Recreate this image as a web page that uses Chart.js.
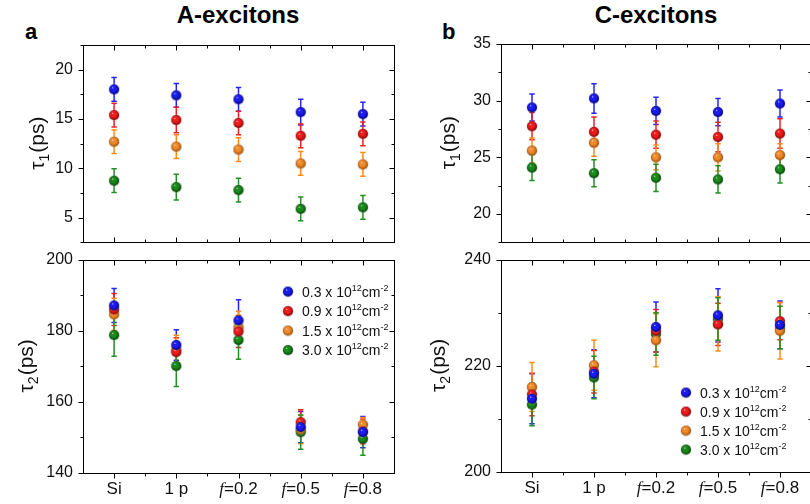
<!DOCTYPE html>
<html>
<head>
<meta charset="utf-8">
<script src="https://cdn.jsdelivr.net/npm/chart.js@4.4.0/dist/chart.umd.min.js"></script>
<style>
  html, body { margin: 0; padding: 0; background: #fff; }
  body { width: 810px; height: 504px; position: relative; overflow: hidden; font-family: Arial, "Liberation Sans", sans-serif; }
  canvas { position: absolute; }
  .title { position: absolute; width: 300px; text-align: center; font-weight: bold; font-size: 24px; line-height: 24px; color: #000; }
  .letter { position: absolute; font-weight: bold; font-size: 22px; line-height: 22px; color: #000; }
</style>
</head>
<body>
<div class="title" style="left:88px; top:3px;">A-excitons</div>
<div class="title" style="left:506px; top:3px;">C-excitons</div>
<div class="letter" style="left:25px; top:21px;">a</div>
<div class="letter" style="left:442px; top:21px;">b</div>

<canvas id="a-top" width="410" height="262" style="left:0; top:0;"></canvas>
<canvas id="a-bottom" width="410" height="264" style="left:0; top:240px;"></canvas>
<canvas id="b-top" width="410" height="262" style="left:410px; top:0;"></canvas>
<canvas id="b-bottom" width="410" height="264" style="left:410px; top:240px;"></canvas>

<script>
const categories = ["Si", "1 p", "f=0.2", "f=0.5", "f=0.8"];
const densities = ["0.3", "0.9", "1.5", "3.0"];

// A-excitons, tau1 (ps)
const a_tau1_03 = [18.0, 17.4, 17.0, 15.7, 15.5];
const a_tau1_09 = [15.4, 14.9, 14.6, 13.3, 13.5];
const a_tau1_15 = [12.7, 12.2, 11.9, 10.5, 10.4];
const a_tau1_30 = [8.75, 8.1, 7.8, 5.9, 6.05];
const a_tau1_err03 = [1.2, 1.2, 1.2, 1.3, 1.2];
const a_tau1_err09 = [1.2, 1.3, 1.2, 1.2, 1.2];
const a_tau1_err15 = [1.2, 1.2, 1.2, 1.2, 1.2];
const a_tau1_err30 = [1.2, 1.3, 1.2, 1.2, 1.2];

// A-excitons, tau2 (ps)
const a_tau2_03 = [187.1, 176.0, 182.9, 152.9, 151.5];
const a_tau2_09 = [186.0, 174.0, 179.8, 154.3, 151.7];
const a_tau2_15 = [184.6, 174.7, 181.0, 152.2, 153.6];
const a_tau2_30 = [178.8, 170.1, 177.4, 151.5, 149.6];
const a_tau2_err03 = [4.8, 4.3, 5.8, 4.4, 4.4];
const a_tau2_err09 = [4.5, 4.0, 4.5, 3.5, 3.5];
const a_tau2_err15 = [4.5, 4.0, 4.5, 4.0, 2.0];
const a_tau2_err30 = [6.0, 5.8, 5.4, 4.8, 4.6];

// C-excitons, tau1 (ps)
const c_tau1_03 = [29.4, 30.2, 29.1, 29.0, 29.75];
const c_tau1_09 = [27.75, 27.25, 27.0, 26.8, 27.1];
const c_tau1_15 = [25.6, 26.3, 25.0, 25.0, 25.2];
const c_tau1_30 = [24.1, 23.6, 23.2, 23.05, 23.95];
const c_tau1_err03 = [1.2, 1.3, 1.2, 1.2, 1.2];
const c_tau1_err09 = [1.2, 1.3, 1.2, 1.3, 1.3];
const c_tau1_err15 = [1.1, 1.2, 1.1, 1.2, 1.0];
const c_tau1_err30 = [1.15, 1.2, 1.2, 1.2, 1.2];

// C-excitons, tau2 (ps)
const c_tau2_03 = [213.8, 218.5, 227.3, 229.5, 227.7];
const c_tau2_09 = [214.6, 218.9, 226.6, 227.8, 228.4];
const c_tau2_15 = [216.0, 220.1, 224.8, 227.9, 226.6];
const c_tau2_30 = [212.7, 217.8, 226.0, 228.8, 227.2];
const c_tau2_err03 = [4.7, 4.5, 4.7, 5.0, 4.5];
const c_tau2_err09 = [4.0, 4.0, 4.0, 4.0, 3.5];
const c_tau2_err15 = [4.6, 4.7, 5.0, 5.1, 5.3];
const c_tau2_err30 = [4.0, 4.0, 4.0, 4.0, 4.0];

// styles
const ball_base = ["#1c1cf0", "#ee1c1c", "#f08a2a", "#1a8a1a"];
const ball_dark = ["#00007a", "#800000", "#9a4800", "#003f00"];
const bar_colors = ["#2424ff", "#f02020", "#ff8c1a", "#229022"];

function isMajor(v, major) {
    const q = v / major;
    return Math.abs(q - Math.round(q)) < 1e-6;
}

function makeBall(base, dark, r) {
    const c = document.createElement("canvas");
    const s = Math.ceil(r * 2 + 2);
    c.width = s; c.height = s;
    const g = c.getContext("2d");
    const cx = s / 2, cy = s / 2;
    g.beginPath();
    g.arc(cx, cy, r + 0.6, 0, Math.PI * 2);
    g.fillStyle = "rgba(150,150,150,0.4)";
    g.fill();
    const grad = g.createRadialGradient(cx - r * 0.3, cy - r * 0.4, 0, cx, cy, r * 1.05);
    grad.addColorStop(0, "#ffffff");
    grad.addColorStop(0.2, base);
    grad.addColorStop(0.55, base);
    grad.addColorStop(1, dark);
    g.beginPath();
    g.arc(cx, cy, r, 0, Math.PI * 2);
    g.fillStyle = grad;
    g.fill();
    return c;
}

const balls = ball_base.map((b, i) => makeBall(b, ball_dark[i], 5));

const errorBars = {
    id: "errorBars",
    beforeDatasetsDraw(chart) {
        const ctx = chart.ctx;
        const y = chart.scales.y;
        chart.data.datasets.forEach((ds, i) => {
            const meta = chart.getDatasetMeta(i);
            ctx.save();
            ctx.strokeStyle = ds.errColor;
            ctx.lineWidth = 1.5;
            meta.data.forEach((pt, j) => {
                const v = ds.data[j], e = ds.errors[j];
                const top = y.getPixelForValue(v + e);
                const bot = y.getPixelForValue(v - e);
                ctx.beginPath();
                ctx.moveTo(pt.x, top); ctx.lineTo(pt.x, bot);
                ctx.moveTo(pt.x - 2.7, top); ctx.lineTo(pt.x + 2.7, top);
                ctx.moveTo(pt.x - 2.7, bot); ctx.lineTo(pt.x + 2.7, bot);
                ctx.stroke();
            });
            ctx.restore();
        });
    }
};

// box around the plot + tick marks (outward left/bottom, inward on mirrored sides)
const frame = {
    id: "frame",
    afterDraw(chart, args, opts) {
        const {ctx, chartArea: a} = chart;
        const x = chart.scales.x, y = chart.scales.y;
        const L = Math.round(a.left) + 0.5, R = Math.round(a.right) + 0.5;
        const T = Math.round(a.top) + 0.5, B = Math.round(a.bottom) + 0.5;
        ctx.save();
        ctx.strokeStyle = "#000";
        ctx.lineWidth = 1;
        ctx.strokeRect(L, T, R - L, B - T);
        ctx.beginPath();
        y.ticks.forEach(t => {
            const py = Math.round(y.getPixelForValue(t.value)) + 0.5;
            const len = isMajor(t.value, opts.yMajor) ? 5 : 3;
            ctx.moveTo(L - len, py); ctx.lineTo(L, py);
            ctx.moveTo(R, py); ctx.lineTo(R - len, py);
        });
        const n = chart.data.labels.length;
        const xt = [];
        for (let i = 0; i < n; i++) {
            xt.push([x.getPixelForValue(i), 5]);
            if (i < n - 1) xt.push([(x.getPixelForValue(i) + x.getPixelForValue(i + 1)) / 2, 3]);
        }
        xt.forEach(([px, len]) => {
            const p = Math.round(px) + 0.5;
            ctx.moveTo(p, T); ctx.lineTo(p, T + len);
            ctx.moveTo(p, B); ctx.lineTo(p, opts.bottomOut ? B + len : B - len);
        });
        ctx.stroke();
        ctx.restore();
    }
};

// y title with subscript, x labels with italic f, legend with superscripts
const decor = {
    id: "decor",
    afterDraw(chart, args, opts) {
        const {ctx, chartArea: a} = chart;
        ctx.save();
        ctx.fillStyle = "#111";
        ctx.textBaseline = "alphabetic";

        const t = opts.yTitle;
        ctx.save();
        ctx.translate(t.x, (a.top + a.bottom) / 2);
        ctx.rotate(-Math.PI / 2);
        const mainFont = "21px Arial", subFont = "14px Arial";
        ctx.font = mainFont;
        const w1 = ctx.measureText(t.main).width, w3 = ctx.measureText(t.unit).width;
        ctx.font = subFont;
        const w2 = ctx.measureText(t.sub).width;
        let sx = -(w1 + w2 + w3) / 2;
        const base = 7;
        ctx.font = mainFont; ctx.fillText(t.main, sx, base); sx += w1;
        ctx.font = subFont; ctx.fillText(t.sub, sx, base + 5); sx += w2 + 1;
        ctx.font = mainFont; ctx.fillText(t.unit, sx, base);
        ctx.restore();

        if (opts.xLabels) {
            const x = chart.scales.x;
            const by = a.bottom + 21;
            chart.data.labels.forEach((lab, i) => {
                const px = x.getPixelForValue(i);
                if (lab.startsWith("f=")) {
                    ctx.font = "italic 17px 'Liberation Serif'";
                    const wf = ctx.measureText("f").width;
                    ctx.font = "17px Arial";
                    const wr = ctx.measureText(lab.slice(1)).width;
                    let lx = px - (wf + wr) / 2;
                    ctx.font = "italic 17px 'Liberation Serif'";
                    ctx.fillText("f", lx, by);
                    ctx.font = "17px Arial";
                    ctx.fillText(lab.slice(1), lx + wf, by);
                } else {
                    ctx.font = "17px Arial";
                    ctx.textAlign = "center";
                    ctx.fillText(lab, px, by);
                    ctx.textAlign = "left";
                }
            });
        }

        if (opts.legend) {
            const lg = opts.legend;
            chart.data.datasets.forEach((ds, i) => {
                const cx = a.left + lg.dx, cy = a.top + lg.dy + i * lg.gap;
                const img = ds.pointStyle;
                ctx.drawImage(img, cx - img.width / 2, cy - img.height / 2);
                let tx = cx + 14;
                const bl = cy + 5;
                const parts = [[ds.label + " x 10", 0, "14px Arial"], ["12", -6, "9px Arial"],
                               ["cm", 0, "14px Arial"], ["-2", -6, "9px Arial"]];
                parts.forEach(([s, dy, f]) => {
                    ctx.font = f;
                    ctx.fillText(s, tx, bl + dy);
                    tx += ctx.measureText(s).width;
                });
            });
        }
        ctx.restore();
    }
};

function makeDatasets(values, errors) {
    return values.map((vals, i) => ({
        label: densities[i],
        data: vals,
        errors: errors[i],
        errColor: bar_colors[i],
        pointStyle: balls[i],
        pointRadius: 5,
        pointHoverRadius: 5,
        showLine: false
    }));
}

function makeChart(id, cfg) {
    return new Chart(document.getElementById(id), {
        type: "line",
        data: { labels: categories, datasets: makeDatasets(cfg.values, cfg.errors) },
        options: {
            responsive: false,
            animation: false,
            events: [],
            layout: { padding: cfg.padding },
            scales: {
                x: { type: "category", offset: true, display: false },
                y: {
                    min: cfg.min, max: cfg.max,
                    afterFit: s => { s.width = cfg.axisWidth; },
                    grid: { display: false, drawTicks: false },
                    border: { display: false },
                    ticks: {
                        stepSize: cfg.step, autoSkip: false, padding: 10,
                        color: "#111", font: { family: "Arial", size: 16 },
                        callback: v => isMajor(v, cfg.major) ? String(v) : ""
                    }
                }
            },
            plugins: {
                legend: { display: false },
                tooltip: { enabled: false },
                frame: { yMajor: cfg.major, bottomOut: cfg.bottomOut },
                decor: { yTitle: cfg.yTitle, xLabels: cfg.bottomOut, legend: cfg.legend }
            }
        },
        plugins: [errorBars, frame, decor]
    });
}

makeChart("a-top", {
    values: [a_tau1_03, a_tau1_09, a_tau1_15, a_tau1_30],
    errors: [a_tau1_err03, a_tau1_err09, a_tau1_err15, a_tau1_err30],
    min: 2.5, max: 22.5, step: 2.5, major: 5, axisWidth: 83,
    padding: { top: 45, right: 16, bottom: 3, left: 0 },
    yTitle: { main: "τ", sub: "1", unit: "(ps)", x: 37 },
    bottomOut: false, legend: null
});

makeChart("a-bottom", {
    values: [a_tau2_03, a_tau2_09, a_tau2_15, a_tau2_30],
    errors: [a_tau2_err03, a_tau2_err09, a_tau2_err15, a_tau2_err30],
    min: 140, max: 200, step: 10, major: 20, axisWidth: 83,
    padding: { top: 19, right: 16, bottom: 31, left: 0 },
    yTitle: { main: "τ", sub: "2", unit: "(ps)", x: 26 },
    bottomOut: true, legend: { dx: 205, dy: 32, gap: 19.5 }
});

makeChart("b-top", {
    values: [c_tau1_03, c_tau1_09, c_tau1_15, c_tau1_30],
    errors: [c_tau1_err03, c_tau1_err09, c_tau1_err15, c_tau1_err30],
    min: 17.5, max: 35, step: 2.5, major: 5, axisWidth: 91,
    padding: { top: 44, right: 9, bottom: 3, left: 0 },
    yTitle: { main: "τ", sub: "1", unit: "(ps)", x: 38 },
    bottomOut: false, legend: null
});

makeChart("b-bottom", {
    values: [c_tau2_03, c_tau2_09, c_tau2_15, c_tau2_30],
    errors: [c_tau2_err03, c_tau2_err09, c_tau2_err15, c_tau2_err30],
    min: 200, max: 240, step: 10, major: 20, axisWidth: 91,
    padding: { top: 19, right: 9, bottom: 32, left: 0 },
    yTitle: { main: "τ", sub: "2", unit: "(ps)", x: 28 },
    bottomOut: true, legend: { dx: 185, dy: 133, gap: 19 }
});
</script>
</body>
</html>
